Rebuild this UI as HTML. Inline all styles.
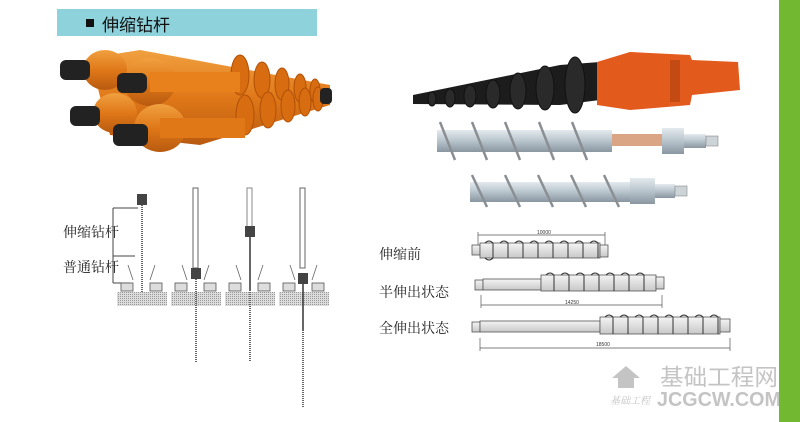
<!DOCTYPE html>
<html><head><meta charset="utf-8"><style>
html,body{margin:0;padding:0;background:#fff;}
body{width:800px;height:422px;overflow:hidden;position:relative;}
svg{position:absolute;left:0;top:0;}
</style></head><body>
<svg width="800" height="422" viewBox="0 0 800 422" xmlns="http://www.w3.org/2000/svg" font-family="'Liberation Serif','Noto Serif CJK SC',serif">
<defs>
<linearGradient id="or" x1="0" y1="0" x2="0" y2="1"><stop offset="0" stop-color="#f0a040"/><stop offset="0.5" stop-color="#e07818"/><stop offset="1" stop-color="#b85a10"/></linearGradient>
<linearGradient id="sv" x1="0" y1="0" x2="0" y2="1"><stop offset="0" stop-color="#e4eaee"/><stop offset="0.5" stop-color="#b8c4cc"/><stop offset="1" stop-color="#8a96a0"/></linearGradient>
<linearGradient id="gr" x1="0" y1="0" x2="0" y2="1"><stop offset="0" stop-color="#f4f4f4"/><stop offset="1" stop-color="#c8c8c8"/></linearGradient>
<pattern id="gd" width="2" height="2" patternUnits="userSpaceOnUse"><rect width="2" height="2" fill="#dcdcdc"/><rect width="1" height="1" fill="#999"/></pattern>
</defs>
<!-- header -->
<rect x="57" y="9" width="260" height="27" fill="#8ed2dc"/>
<rect x="86" y="19" width="8" height="8" fill="#111"/>
<text x="102" y="31" font-size="17" font-family="'Liberation Sans','Noto Sans CJK SC',sans-serif" fill="#111">伸缩钻杆</text>
<!-- orange rods -->
<g>
<polygon points="90,58 140,50 330,85 330,105 200,145 110,135" fill="url(#or)"/>
<g fill="#d86c10" stroke="#b05008" stroke-width="1">
<ellipse cx="240" cy="75" rx="9" ry="20"/><ellipse cx="262" cy="80" rx="8" ry="18"/><ellipse cx="282" cy="84" rx="7" ry="16"/><ellipse cx="300" cy="88" rx="6" ry="14"/><ellipse cx="315" cy="91" rx="5" ry="12"/>
<ellipse cx="245" cy="115" rx="9" ry="20"/><ellipse cx="268" cy="110" rx="8" ry="18"/><ellipse cx="288" cy="106" rx="7" ry="16"/><ellipse cx="305" cy="102" rx="6" ry="14"/><ellipse cx="318" cy="99" rx="5" ry="12"/>
</g>
<ellipse cx="105" cy="70" rx="22" ry="20" fill="url(#or)"/>
<ellipse cx="150" cy="82" rx="26" ry="24" fill="url(#or)"/>
<ellipse cx="115" cy="113" rx="22" ry="20" fill="url(#or)"/>
<ellipse cx="160" cy="128" rx="26" ry="24" fill="url(#or)"/>
<rect x="150" y="72" width="90" height="20" fill="#e8801c"/>
<rect x="160" y="118" width="85" height="20" fill="#e07818"/>
<g fill="#222">
<rect x="60" y="60" width="30" height="20" rx="6"/>
<rect x="117" y="73" width="30" height="20" rx="6"/>
<rect x="70" y="106" width="30" height="20" rx="6"/>
<rect x="113" y="124" width="35" height="22" rx="6"/>
<rect x="320" y="88" width="12" height="16" rx="4"/>
</g>
</g>
<!-- black/orange auger -->
<polygon points="413,95 560,65 600,62 600,100 560,105 413,104" fill="#1c1c1c"/>
<g fill="#2a2a2a" stroke="#111">
<ellipse cx="575" cy="85" rx="10" ry="28"/><ellipse cx="545" cy="88" rx="9" ry="22"/><ellipse cx="518" cy="91" rx="8" ry="18"/><ellipse cx="493" cy="94" rx="7" ry="14"/><ellipse cx="470" cy="96" rx="6" ry="11"/><ellipse cx="450" cy="98" rx="5" ry="9"/><ellipse cx="432" cy="99" rx="4" ry="7"/>
</g>
<polygon points="597,62 630,52 690,55 692,60 738,62 740,90 692,95 690,105 630,110 597,105" fill="#e25a1c"/>
<rect x="670" y="60" width="10" height="42" fill="#c44a14"/>
<!-- silver rod 1 -->
<rect x="437" y="130" width="175" height="22" fill="url(#sv)"/>
<rect x="612" y="134" width="50" height="12" fill="#d9a585"/>
<rect x="662" y="128" width="22" height="26" fill="url(#sv)"/>
<rect x="684" y="134" width="22" height="14" fill="url(#sv)"/>
<rect x="706" y="136" width="12" height="10" fill="#ccd4d8" stroke="#777" stroke-width="0.5"/>
<g fill="none" stroke="#8a8f94" stroke-width="2.5">
<path d="M440,122 L455,160 M472,122 L487,160 M505,122 L520,160 M539,122 L554,160 M572,122 L587,160"/>
</g>
<!-- silver rod 2 -->
<rect x="470" y="182" width="160" height="20" fill="url(#sv)"/>
<rect x="630" y="178" width="25" height="26" fill="url(#sv)"/>
<rect x="655" y="184" width="20" height="14" fill="url(#sv)"/>
<rect x="675" y="186" width="12" height="10" fill="#ccd4d8" stroke="#777" stroke-width="0.5"/>
<g fill="none" stroke="#8a8f94" stroke-width="2.5">
<path d="M472,175 L487,207 M505,175 L520,207 M538,175 L553,207 M571,175 L586,207 M604,175 L619,207"/>
</g>
<!-- left diagrams -->
<g stroke="#444" stroke-width="1" fill="none">
<line x1="113" y1="208" x2="113" y2="283"/><line x1="113" y1="208" x2="138" y2="208"/><line x1="113" y1="256" x2="135" y2="256"/><line x1="113" y1="283" x2="130" y2="283"/>
</g>
<text x="63" y="237" font-size="14" fill="#222">伸缩钻杆</text>
<text x="63" y="272" font-size="14" fill="#222">普通钻杆</text>
<g>
<rect x="117" y="292" width="50" height="14" fill="url(#gd)"/>
<rect x="171" y="292" width="50" height="14" fill="url(#gd)"/>
<rect x="225" y="292" width="50" height="14" fill="url(#gd)"/>
<rect x="279" y="292" width="50" height="14" fill="url(#gd)"/>
<g stroke="#555" fill="#ddd" stroke-width="0.8">
<rect x="121" y="283" width="12" height="8"/><rect x="150" y="283" width="12" height="8"/>
<rect x="175" y="283" width="12" height="8"/><rect x="204" y="283" width="12" height="8"/>
<rect x="229" y="283" width="12" height="8"/><rect x="258" y="283" width="12" height="8"/>
<rect x="283" y="283" width="12" height="8"/><rect x="312" y="283" width="12" height="8"/>
</g>
<g stroke="#666" stroke-width="0.8">
<line x1="133" y1="280" x2="128" y2="265"/><line x1="150" y1="280" x2="155" y2="265"/>
<line x1="187" y1="280" x2="182" y2="265"/><line x1="204" y1="280" x2="209" y2="265"/>
<line x1="241" y1="280" x2="236" y2="265"/><line x1="258" y1="280" x2="263" y2="265"/>
<line x1="295" y1="280" x2="290" y2="265"/><line x1="312" y1="280" x2="317" y2="265"/>
</g>
<line x1="142" y1="205" x2="142" y2="292" stroke="#666" stroke-width="2" stroke-dasharray="1,1"/>
<rect x="137" y="194" width="10" height="11" fill="#444"/>
<rect x="193" y="188" width="5" height="80" fill="none" stroke="#666"/>
<rect x="191" y="268" width="10" height="11" fill="#444"/>
<line x1="196" y1="279" x2="196" y2="362" stroke="#666" stroke-width="2" stroke-dasharray="1,1"/>
<rect x="247" y="188" width="5" height="45" fill="none" stroke="#888"/>
<rect x="245" y="226" width="10" height="11" fill="#444"/>
<line x1="250" y1="237" x2="250" y2="290" stroke="#333" stroke-width="1.5"/>
<line x1="250" y1="290" x2="250" y2="362" stroke="#666" stroke-width="2" stroke-dasharray="1,1"/>
<rect x="300" y="188" width="5" height="80" fill="none" stroke="#666"/>
<rect x="298" y="273" width="10" height="11" fill="#444"/>
<line x1="303" y1="284" x2="303" y2="330" stroke="#333" stroke-width="1.5"/>
<line x1="303" y1="330" x2="303" y2="408" stroke="#666" stroke-width="2" stroke-dasharray="1,1"/>
</g>
<!-- bottom-right -->
<text x="379" y="259" font-size="14" fill="#222">伸缩前</text>
<text x="379" y="297" font-size="14" fill="#222">半伸出状态</text>
<text x="379" y="333" font-size="14" fill="#222">全伸出状态</text>
<g stroke="#555" stroke-width="0.7" fill="none">
<line x1="478" y1="235" x2="605" y2="235"/><line x1="478" y1="232" x2="478" y2="245"/><line x1="605" y1="232" x2="605" y2="245"/>
<line x1="481" y1="305" x2="662" y2="305"/><line x1="481" y1="295" x2="481" y2="308"/><line x1="662" y1="295" x2="662" y2="308"/>
<line x1="480" y1="348" x2="730" y2="348"/><line x1="480" y1="338" x2="480" y2="351"/><line x1="730" y1="338" x2="730" y2="351"/>
</g>
<text x="537" y="234" font-size="5" fill="#333" font-family="'Liberation Sans',sans-serif">10000</text>
<text x="565" y="304" font-size="5" fill="#333" font-family="'Liberation Sans',sans-serif">14250</text>
<text x="596" y="346" font-size="5" fill="#333" font-family="'Liberation Sans',sans-serif">18500</text>
<g stroke="#555" stroke-width="0.8">
<rect x="472" y="245" width="8" height="10" fill="url(#gr)"/>
<rect x="480" y="243" width="120" height="15" fill="url(#gr)"/>
<rect x="600" y="245" width="8" height="12" fill="url(#gr)"/>
<rect x="475" y="280" width="8" height="10" fill="url(#gr)"/>
<rect x="483" y="279" width="58" height="11" fill="url(#gr)"/>
<rect x="541" y="275" width="115" height="16" fill="url(#gr)"/>
<rect x="656" y="277" width="8" height="12" fill="url(#gr)"/>
<rect x="472" y="322" width="8" height="10" fill="url(#gr)"/>
<rect x="480" y="321" width="120" height="11" fill="url(#gr)"/>
<rect x="600" y="317" width="120" height="17" fill="url(#gr)"/>
<rect x="720" y="319" width="10" height="13" fill="url(#gr)"/>
</g>
<g fill="none" stroke="#333" stroke-width="1">
<path d="M485,243 q4,-4 8,0 v15 q-4,4 -8,0 M500,243 q4,-4 8,0 v15 M515,243 q4,-4 8,0 v15 M530,243 q4,-4 8,0 v15 M545,243 q4,-4 8,0 v15 M560,243 q4,-4 8,0 v15 M575,243 q4,-4 8,0 v15 M590,243 q4,-4 8,0 v15"/>
<path d="M546,275 q4,-4 8,0 v16 M561,275 q4,-4 8,0 v16 M576,275 q4,-4 8,0 v16 M591,275 q4,-4 8,0 v16 M606,275 q4,-4 8,0 v16 M621,275 q4,-4 8,0 v16 M636,275 q4,-4 8,0 v16"/>
<path d="M605,317 q4,-4 8,0 v17 M620,317 q4,-4 8,0 v17 M635,317 q4,-4 8,0 v17 M650,317 q4,-4 8,0 v17 M665,317 q4,-4 8,0 v17 M680,317 q4,-4 8,0 v17 M695,317 q4,-4 8,0 v17 M710,317 q4,-4 8,0 v17"/>
</g>
<!-- watermark -->
<path d="M612,378 l14,-12 14,12 -6,0 0,10 -16,0 0,-10z" fill="#c4c4c4"/>
<text x="660" y="385" font-size="23" fill="#c4c4c4" textLength="118" lengthAdjust="spacingAndGlyphs" font-family="'Liberation Sans','Noto Sans CJK SC',sans-serif">基础工程网</text>
<text x="657" y="406" font-size="20" font-weight="bold" fill="#c4c4c4" textLength="124" lengthAdjust="spacingAndGlyphs" font-family="'Liberation Sans',sans-serif">JCGCW.COM</text>
<text x="610" y="404" font-size="10" font-style="italic" fill="#c4c4c4" font-family="'Noto Serif CJK SC',serif">基础工程</text>
<rect x="779" y="0" width="21" height="422" fill="#72b830"/>
</svg>
</body></html>
